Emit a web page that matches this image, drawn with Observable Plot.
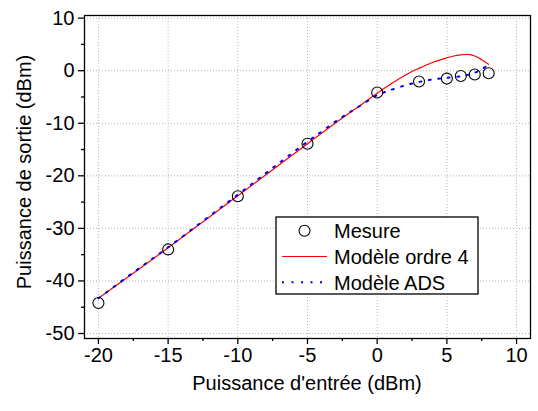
<!DOCTYPE html>
<html><head><meta charset="utf-8">
<script src="https://cdn.jsdelivr.net/npm/d3@7"></script>
<script src="https://cdn.jsdelivr.net/npm/@observablehq/plot@0.6"></script>
<style>body{margin:0;background:#fff} svg{display:block}</style>
</head><body><div id="chart"></div>
<script>
const mesureX = [-20, -15, -10, -5, 0, 3, 5, 6, 7, 8];
const mesureY = [-44.2, -34.0, -23.9, -13.9, -4.15, -2.05, -1.5, -1.0, -0.72, -0.5];
const ordre4X = [-20, -15, -10, -5, -2.5, -1, 0, 1, 2, 2.6, 3, 4, 5, 5.5, 6, 6.5, 7, 7.5, 8];
const ordre4Y = [-43.3, -33.7, -23.8, -13.9, -9.0, -6.2, -4.3, -2.5, -0.85, 0, 0.45, 1.6, 2.45, 2.8, 3.0, 3.1, 2.8, 2.1, 1.2];
const adsX = [-20, -17.5, -15, -12.5, -10, -7.5, -5, -4, -3, -2, -1, 0, 0.5, 1, 2, 3, 4, 5, 6, 6.5, 7, 7.5, 8];
const adsY = [-43.3, -38.4, -33.6, -28.6, -23.6, -18.5, -13.5, -11.6, -9.7, -7.95, -6.3, -4.6, -4.1, -3.65, -2.8, -2.15, -1.65, -1.35, -1.05, -0.8, -0.4, 0.3, 1.15];
const xTicks = [-20, -15, -10, -5, 0, 5, 10];
const yTicks = [-50, -40, -30, -20, -10, 0, 10];
const xMinor = [-17.5, -12.5, -7.5, -2.5, 2.5, 7.5];
const yMinor = [-45, -35, -25, -15, -5, 5];
const legendLabels = ["Mesure", "Modèle ordre 4", "Modèle ADS"];
const xTitle = "Puissance d'entrée (dBm)";
const yTitle = "Puissance de sortie (dBm)";

const mesure = mesureX.map((x, i) => ({x, y: mesureY[i]}));
const ordre4 = ordre4X.map((x, i) => ({x, y: ordre4Y[i]}));
const ads = adsX.map((x, i) => ({x, y: adsY[i]}));

const font = "'Liberation Sans', Arial, sans-serif";
const gridStyle = {stroke: "#b4b4b4", strokeOpacity: 1, strokeWidth: 1, strokeDasharray: "1,2"};

const plot = Plot.plot({
  width: 538, height: 411,
  marginLeft: 84, marginRight: 8, marginTop: 15, marginBottom: 73,
  x: {domain: [-21, 11]},
  y: {domain: [-50.95, 10.5]},
  style: {fontFamily: font, fontSize: "20px", color: "black", background: "white", overflow: "visible"},
  marks: [
    Plot.gridX(xTicks, gridStyle),
    Plot.gridY(yTicks, gridStyle),
    Plot.line(ordre4, {x: "x", y: "y", stroke: "#ff0000", strokeWidth: 1.2, curve: "catmull-rom"}),
    Plot.line(ads, {x: "x", y: "y", stroke: "#0000ff", strokeWidth: 2, strokeDasharray: "2,7.5", curve: "catmull-rom"}),
    Plot.dot(mesure, {x: "x", y: "y", r: 5.5, stroke: "black", strokeWidth: 1.1, fill: "none"}),
    Plot.frame({stroke: "black", strokeWidth: 1.3}),
    Plot.axisX(xTicks, {tickSize: 6, tickPadding: 3, tickFormat: d => String(d), fontSize: 20, label: null, strokeWidth: 1.3}),
    Plot.axisX(xMinor, {tickSize: 3, tickFormat: () => "", label: null, strokeWidth: 1.3}),
    Plot.axisY(yTicks, {tickSize: 6, tickPadding: 4, tickFormat: d => String(d), fontSize: 20, label: null, strokeWidth: 1.3}),
    Plot.axisY(yMinor, {tickSize: 3, tickFormat: () => "", label: null, strokeWidth: 1.3})
  ]
});

const svg = d3.select(plot);
svg.append("text").attr("x", 307).attr("y", 390).attr("text-anchor", "middle")
  .attr("font-size", 20).attr("font-family", font).attr("fill", "black").text(xTitle);
svg.append("text").attr("transform", "translate(31,172) rotate(-90)").attr("text-anchor", "middle")
  .attr("font-size", 20).attr("font-family", font).attr("fill", "black").text(yTitle);

const lg = svg.append("g").attr("font-family", font).attr("font-size", 20).attr("text-anchor", "start");
lg.append("rect").attr("x", 276).attr("y", 217).attr("width", 202).attr("height", 77)
  .attr("fill", "white").attr("stroke", "black").attr("stroke-width", 1.3);
const rows = [230.7, 256.5, 282.3];
lg.append("circle").attr("cx", 304.5).attr("cy", rows[0]).attr("r", 5.5)
  .attr("fill", "none").attr("stroke", "black").attr("stroke-width", 1.1);
lg.append("line").attr("x1", 282).attr("x2", 327).attr("y1", rows[1]).attr("y2", rows[1])
  .attr("stroke", "#ff0000").attr("stroke-width", 1.2);
lg.append("line").attr("x1", 282).attr("x2", 327).attr("y1", rows[2]).attr("y2", rows[2])
  .attr("stroke", "#0000ff").attr("stroke-width", 2).attr("stroke-dasharray", "2,7.5");
legendLabels.forEach((t, i) => {
  lg.append("text").attr("x", 334).attr("y", rows[i]).attr("dy", "0.36em")
    .attr("text-anchor", "start").attr("fill", "black").text(t);
});

document.getElementById("chart").appendChild(plot);
</script>
</body></html>
